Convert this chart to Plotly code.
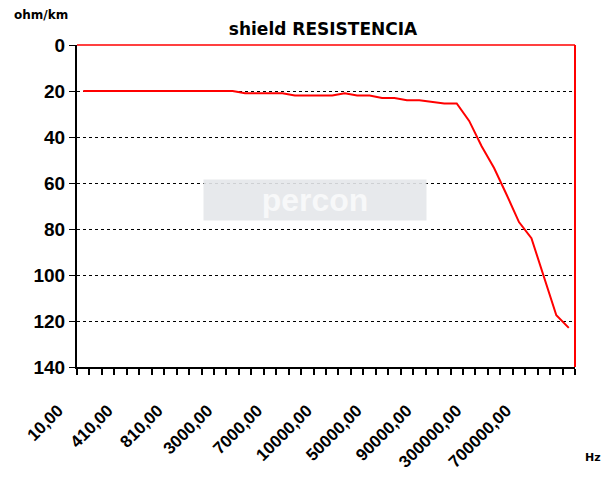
import plotly.graph_objects as go

# 40 frequency categories (Hz); only every 4th label is shown on the axis
frequencies = [10, 110, 210, 310, 410, 510, 610, 710, 810, 910,
               1000, 2000, 3000, 4000, 5000, 6000, 7000, 8000, 9000, 9500,
               10000, 20000, 30000, 40000, 50000, 60000, 70000, 80000, 90000, 100000,
               150000, 200000, 300000, 400000, 500000, 600000, 700000, 800000, 900000, 1000000]

# shield resistance (ohm/km)
resistance = [20, 20, 20, 20, 20, 20, 20, 20, 20, 20,
              20, 20, 20, 21, 21, 21, 21, 22, 22, 22,
              22, 21, 22, 22, 23, 23, 24, 24, 24.8, 25.4,
              25.4, 33, 44, 53.5, 65, 77, 84, 100.5, 117.5, 123]

label_step = 4
y_ticks = [0, 20, 40, 60, 80, 100, 120, 140]

def fmt(v):
    return f"{v},00"

x_idx = list(range(len(frequencies)))
tick_idx = x_idx[::label_step]
tick_text = [fmt(frequencies[i]) for i in tick_idx]

fig = go.Figure()
fig.add_trace(go.Scatter(
    x=x_idx, y=resistance, mode="lines",
    line=dict(color="#ff0000", width=2),
    hoverinfo="skip", showlegend=False,
))

FONT = "Arial, Liberation Sans, sans-serif"
WIDE = "DejaVu Sans, Verdana, sans-serif"

# the page body has an 8px default margin, so the figure is made smaller
W, H = 603, 468

fig.update_layout(
    width=W, height=H,
    margin=dict(l=69, r=36, t=37, b=109, autoexpand=False),
    paper_bgcolor="white", plot_bgcolor="white",
    font=dict(family=FONT, color="black"),
    title=dict(text="<b>shield RESISTENCIA</b>", x=315 / W, xanchor="center",
               y=1 - 21 / H, yanchor="middle",
               font=dict(size=17, family=WIDE, color="black")),
    xaxis=dict(
        range=[-0.5, len(frequencies) - 0.5], automargin=False,
        tickmode="array", tickvals=tick_idx, ticktext=tick_text,
        ticks="", tickangle=-45,
        tickfont=dict(size=17, family=FONT, color="black", weight="bold"),
        ticklabelstandoff=25, ticklabelshift=-25,
        showgrid=False, zeroline=False,
        showline=True, linecolor="black", linewidth=2,
        minor=dict(ticks="outside", ticklen=6, tickcolor="black", tickwidth=2,
                   tick0=-0.5, dtick=1, showgrid=False),
    ),
    yaxis=dict(
        range=[140, 0], tickmode="array", tickvals=y_ticks, automargin=False,
        ticks="outside", ticklen=6, tickcolor="black", tickwidth=1,
        tickfont=dict(size=19, family=FONT, color="black", weight="bold"),
        showgrid=True, gridcolor="black", griddash="dot", gridwidth=1,
        zeroline=False,
        showline=True, linecolor="black", linewidth=2,
    ),
    shapes=[
        dict(type="line", xref="paper", yref="paper", x0=0, x1=1, y0=1, y1=1,
             line=dict(color="#ff0000", width=1.5)),
        dict(type="line", xref="paper", yref="paper", x0=1, x1=1, y0=0, y1=1,
             line=dict(color="#ff0000", width=2)),
    ],
    annotations=[
        dict(text="<b>ohm/km</b>", xref="paper", yref="paper", x=-0.072, y=1.093,
             xanchor="center", yanchor="middle", showarrow=False,
             font=dict(size=12, family=WIDE, color="black")),
        dict(text="<b>Hz</b>", xref="paper", yref="paper", x=1.036, y=-0.28,
             xanchor="center", yanchor="middle", showarrow=False,
             font=dict(size=11, family=WIDE, color="black")),
        dict(text="<b>percon</b>", xref="paper", yref="paper", x=0.478, y=0.52,
             xanchor="center", yanchor="middle", showarrow=False,
             width=220, height=38, align="center",
             bgcolor="#e5e7ea", font=dict(size=32, family=FONT, color="#f7f8f9"),
             borderpad=1, opacity=0.9),
    ],
)

fig.write_html("out.html")
